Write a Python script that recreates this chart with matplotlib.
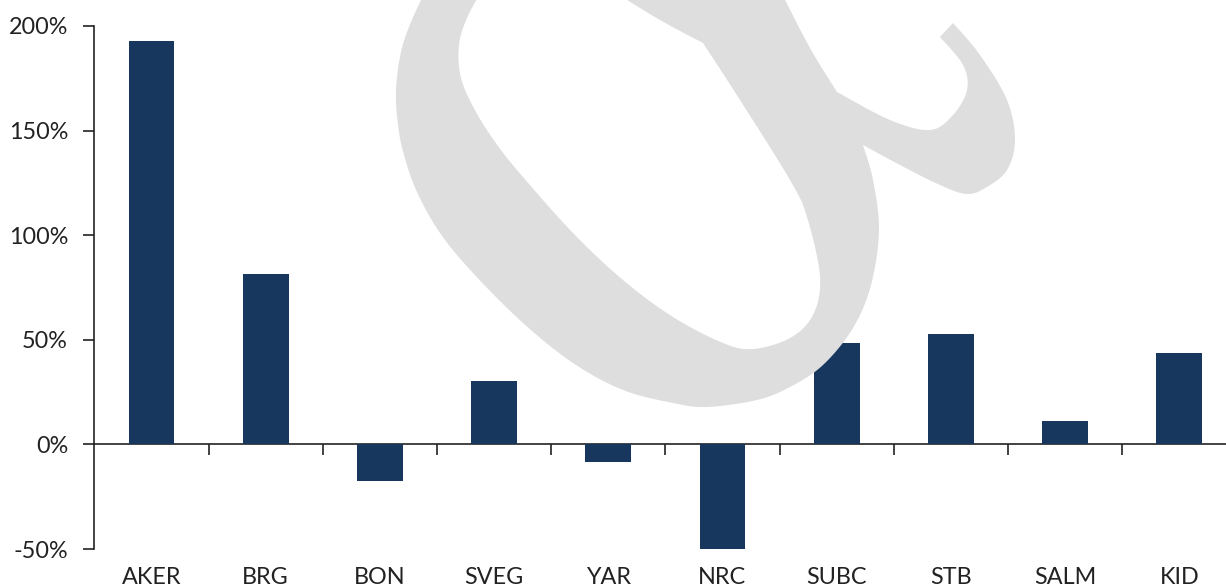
import matplotlib
matplotlib.use("Agg")
import matplotlib.pyplot as plt
from matplotlib.path import Path
from matplotlib.patches import PathPatch
from matplotlib.ticker import FixedLocator, FuncFormatter
import matplotlib.transforms as mtransforms

tickers = ["AKER", "BRG", "BON", "SVEG", "YAR", "NRC", "SUBC", "STB", "SALM", "KID"]
returns = [1.926, 0.815, -0.173, 0.302, -0.086, -0.504, 0.485, 0.527, 0.113, 0.438]
y_ticks = [-0.5, 0.0, 0.5, 1.0, 1.5, 2.0]

W, H = 1226, 588
plt.rcParams["font.family"] = ["Lato", "DejaVu Sans"]
fig = plt.figure(figsize=(W / 100, H / 100), dpi=100)


def smooth(pts, n=12):
    # catmull-rom through the given points, returns dense list
    out = []
    p = [pts[0]] + pts + [pts[-1]]
    for i in range(1, len(p) - 2):
        p0, p1, p2, p3 = p[i - 1], p[i], p[i + 1], p[i + 2]
        for k in range(n):
            t = k / n
            t2, t3 = t * t, t * t * t
            x = 0.5 * (2 * p1[0] + (-p0[0] + p2[0]) * t + (2 * p0[0] - 5 * p1[0] + 4 * p2[0] - p3[0]) * t2
                       + (-p0[0] + 3 * p1[0] - 3 * p2[0] + p3[0]) * t3)
            y = 0.5 * (2 * p1[1] + (-p0[1] + p2[1]) * t + (2 * p0[1] - 5 * p1[1] + 4 * p2[1] - p3[1]) * t2
                       + (-p0[1] + 3 * p1[1] - 3 * p2[1] + p3[1]) * t3)
            out.append((x, y))
    out.append(pts[-1])
    return out


# grey watermark logo, pixel outline (y from top), split at the sharp corners
outer_parts = [
    [(426, -10), (411, 22), (401, 52), (396, 90), (398, 125), (404, 155), (417, 192), (440, 233),
     (473, 273), (523, 323), (573, 363), (623, 390), (673, 403), (707, 407), (757, 400),
     (790, 387), (823, 365), (853, 328), (871, 285), (879, 230), (873, 180), (863, 145)],
    [(863, 145), (900, 165), (940, 185), (967, 194), (987, 187), (1007, 170), (1015, 140),
     (1007, 100), (980, 55), (953, 23)],
    [(953, 23), (940, 37)],
    [(940, 37), (963, 65), (967, 90), (953, 115), (930, 130), (890, 120), (837, 92)],
    [(837, 92), (810, 48), (780, -10)],
]
hole_parts = [
    [(482, -10), (467, 18), (459, 45), (461, 78), (476, 112), (498, 146), (523, 177),
     (573, 233), (623, 280), (673, 317), (723, 343), (753, 349), (790, 338), (813, 315),
     (820, 277), (807, 217), (790, 180), (740, 100), (703, 43)],
    [(703, 43), (660, 20), (611, -10)],
]


def ring(parts):
    pts = []
    for part in parts:
        seg = smooth(part) if len(part) > 2 else part
        pts += seg if not pts else seg[1:]
    return pts


verts, codes = [], []
for pts in (ring(outer_parts), ring(hole_parts)[::-1]):
    pts = [(x / W, 1 - y / H) for x, y in pts]
    verts += pts + [pts[0]]
    codes += [Path.MOVETO] + [Path.LINETO] * (len(pts) - 1) + [Path.CLOSEPOLY]
logo = PathPatch(Path(verts, codes), facecolor="#dedede", edgecolor="none",
                 transform=fig.transFigure, zorder=0)
fig.patches.append(logo)

ax = fig.add_axes([94.4 / W, 39 / H, 1142 / W, 523 / H])
ax.patch.set_alpha(0)

x = list(range(len(tickers)))
ax.bar(x, returns, width=0.4, color="#17375e", zorder=3)

ax.set_xlim(-0.5, len(tickers) - 0.5)
ax.set_ylim(-0.5, 2.0)
ax.set_yticks(y_ticks)
ax.yaxis.set_major_formatter(FuncFormatter(lambda v, p: f"{v * 100:.0f}%"))
ax.tick_params(axis="y", direction="out", length=8, width=1.2, pad=11,
               labelsize=16.8, labelcolor="#222222", color="#222222")

for s in ["top", "right"]:
    ax.spines[s].set_visible(False)
ax.spines["left"].set_linewidth(1.2)
ax.spines["left"].set_color("#222222")
ax.spines["bottom"].set_position(("data", 0))
ax.spines["bottom"].set_linewidth(1.2)
ax.spines["bottom"].set_color("#222222")

ax.xaxis.set_major_locator(FixedLocator([i + 0.5 for i in x]))
ax.xaxis.set_major_formatter(FuncFormatter(lambda v, p: ""))
ax.tick_params(axis="x", direction="out", length=8, width=1.2, color="#222222")

trans = mtransforms.blended_transform_factory(ax.transData, ax.transAxes)
for i, name in zip(x, tickers):
    ax.text(i, -28 / 523, name, transform=trans, ha="center", va="center",
            fontsize=16.8, color="#222222")

fig.savefig("out.png", dpi=100)
